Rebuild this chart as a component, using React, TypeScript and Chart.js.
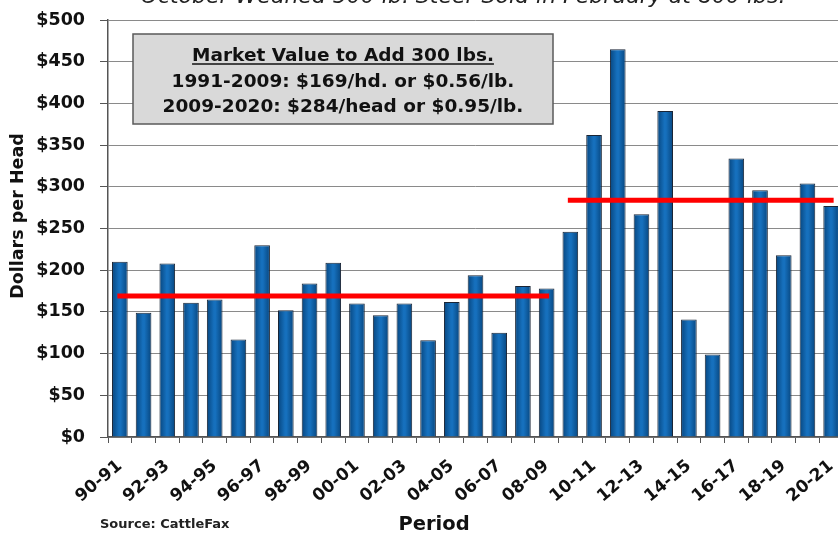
import React, { useEffect, useRef } from 'react';
import { Chart, registerables } from 'chart.js';

Chart.register(...registerables);

// ---- data ----
const periods = [
  '90-91', '91-92', '92-93', '93-94', '94-95', '95-96', '96-97', '97-98', '98-99', '99-00',
  '00-01', '01-02', '02-03', '03-04', '04-05', '05-06', '06-07', '07-08', '08-09', '09-10',
  '10-11', '11-12', '12-13', '13-14', '14-15', '15-16', '16-17', '17-18', '18-19', '19-20', '20-21',
];
const dollarsPerHead = [
  210, 149, 208, 161, 165, 117, 230, 152, 184, 209,
  160, 146, 160, 116, 162, 194, 125, 181, 178, 246,
  362, 465, 267, 391, 141, 99, 334, 296, 218, 304, 277,
];
const avgPeriod1 = 169; // 1991-2009
const avgPeriod2 = 284; // 2009-2020
const period1Start = '90-91';
const period1End = '08-09';
const period2Start = '09-10';
const period2End = '20-21';

const yMin = 0;
const yMax = 500;
const yStep = 50;

const titleText = 'October Weaned 500 lb. Steer Sold in February at 800 lbs.';
const boxLines = [
  'Market Value to Add 300 lbs.',
  '1991-2009: $169/hd. or $0.56/lb.',
  '2009-2020: $284/head or $0.95/lb.',
];
const yTitle = 'Dollars per Head';
const xTitle = 'Period';
const sourceText = 'Source: CattleFax';

const FONT = "'DejaVu Sans', 'Liberation Sans', Arial, sans-serif";

const extrasPlugin = {
  id: 'extras',
  beforeDatasetsDraw(chart: any) {
    const ctx = chart.ctx;
    ctx.save();
    // annotation box
    const bx = 133, by = 34, bw = 420, bh = 90;
    ctx.fillStyle = '#d9d9d9';
    ctx.fillRect(bx, by, bw, bh);
    ctx.strokeStyle = '#5a5a5a';
    ctx.lineWidth = 1.5;
    ctx.strokeRect(bx, by, bw, bh);
    const cx = bx + bw / 2;
    ctx.fillStyle = '#111';
    ctx.textAlign = 'center';
    ctx.textBaseline = 'alphabetic';
    ctx.font = `bold 18.5px ${FONT}`;
    const ys = [61, 87, 112];
    boxLines.forEach((t, i) => {
      ctx.fillText(t, cx, ys[i]);
      if (i === 0) {
        const w = ctx.measureText(t).width;
        ctx.beginPath();
        ctx.strokeStyle = '#111';
        ctx.lineWidth = 1.5;
        ctx.moveTo(cx - w / 2, ys[i] + 3);
        ctx.lineTo(cx + w / 2, ys[i] + 3);
        ctx.stroke();
      }
    });
    ctx.restore();
  },
  afterDraw(chart: any) {
    const ctx = chart.ctx;
    ctx.save();
    // title (cut off at the top)
    ctx.fillStyle = '#222';
    ctx.textAlign = 'center';
    ctx.textBaseline = 'alphabetic';
    ctx.font = `italic 22px ${FONT}`;
    ctx.fillText(titleText, 463, 3);
    // y title
    ctx.save();
    ctx.translate(18, 216);
    ctx.rotate(-Math.PI / 2);
    ctx.font = `bold 17.5px ${FONT}`;
    ctx.textBaseline = 'middle';
    ctx.fillStyle = '#111';
    ctx.fillText(yTitle, 0, 0);
    ctx.restore();
    // x title
    ctx.font = `bold 19.5px ${FONT}`;
    ctx.textBaseline = 'middle';
    ctx.fillStyle = '#111';
    ctx.fillText(xTitle, 434, 525);
    // source
    ctx.font = `bold 13px ${FONT}`;
    ctx.textAlign = 'left';
    ctx.fillStyle = '#222';
    ctx.fillText(sourceText, 100, 525);
    ctx.restore();
  },
};

function barGradient(c: any) {
  const chart = c.chart;
  const xs = chart.scales && chart.scales.x;
  if (!xs || c.type !== 'data' || !chart.chartArea) return '#0b5ea7';
  const cxp = xs.getPixelForValue(c.dataIndex);
  const w = (xs.width / periods.length) * 0.66;
  const g = chart.ctx.createLinearGradient(cxp - w / 2, 0, cxp + w / 2, 0);
  g.addColorStop(0, '#07467f');
  g.addColorStop(0.45, '#1670bd');
  g.addColorStop(0.55, '#1670bd');
  g.addColorStop(1, '#07467f');
  return g;
}

export default function App() {
  const ref = useRef<HTMLCanvasElement | null>(null);

  useEffect(() => {
    if (!ref.current) return;
    const chart = new Chart(ref.current, {
      type: 'bar',
      data: {
        labels: periods,
        datasets: [
          {
            type: 'line',
            data: [
              { x: period1Start, y: avgPeriod1 },
              { x: period1End, y: avgPeriod1 },
            ],
            borderColor: '#ff0000',
            borderWidth: 5,
            borderCapStyle: 'square',
            pointRadius: 0,
            order: 0,
          } as any,
          {
            type: 'line',
            data: [
              { x: period2Start, y: avgPeriod2 },
              { x: period2End, y: avgPeriod2 },
            ],
            borderColor: '#ff0000',
            borderWidth: 5,
            borderCapStyle: 'square',
            pointRadius: 0,
            order: 0,
          } as any,
          {
            type: 'bar',
            data: dollarsPerHead,
            backgroundColor: barGradient,
            borderColor: '#1a2535',
            borderWidth: 1,
            barPercentage: 0.66,
            categoryPercentage: 1,
            order: 1,
          } as any,
        ],
      },
      options: {
        responsive: false,
        animation: false,
        devicePixelRatio: 1,
        layout: { padding: { top: 20, left: 0, right: 2, bottom: 0 } },
        plugins: {
          legend: { display: false },
          tooltip: { enabled: false },
          title: { display: false },
        },
        scales: {
          x: {
            type: 'category',
            offset: true,
            grid: {
              offset: true,
              drawOnChartArea: false,
              drawTicks: true,
              tickLength: 6,
              tickColor: '#555',
              lineWidth: 1,
            },
            border: { display: true, color: '#555', width: 1.5 },
            ticks: {
              autoSkip: false,
              minRotation: 40,
              maxRotation: 40,
              padding: 13,
              color: '#111',
              font: { family: FONT, weight: 'bold', size: 17 },
              callback: (_v: any, i: number) => (i % 2 === 0 ? periods[i] : ''),
            },
            afterFit: (s: any) => {
              s.height = 99;
              s.paddingLeft = 0;
              s.paddingRight = 0;
            },
          },
          y: {
            type: 'linear',
            min: yMin,
            max: yMax,
            grid: {
              color: '#8a8a8a',
              lineWidth: 1,
              drawTicks: true,
              tickLength: 8,
              tickColor: '#555',
            },
            border: { display: true, color: '#555', width: 1.5 },
            ticks: {
              stepSize: yStep,
              padding: 15,
              color: '#111',
              font: { family: FONT, weight: 'bold', size: 17.5 },
              callback: (v: any) => '$' + v,
            },
            afterFit: (s: any) => {
              s.width = 108;
              s.paddingTop = 0;
              s.paddingBottom = 0;
            },
          },
        },
      },
      plugins: [extrasPlugin],
    } as any);
    return () => chart.destroy();
  }, []);

  return (
    <div
      style={{
        position: 'fixed',
        left: 0,
        top: 0,
        width: 838,
        height: 536,
        overflow: 'hidden',
        background: '#ffffff',
      }}
    >
      <canvas ref={ref} width={845} height={536} style={{ display: 'block' }} />
    </div>
  );
}
